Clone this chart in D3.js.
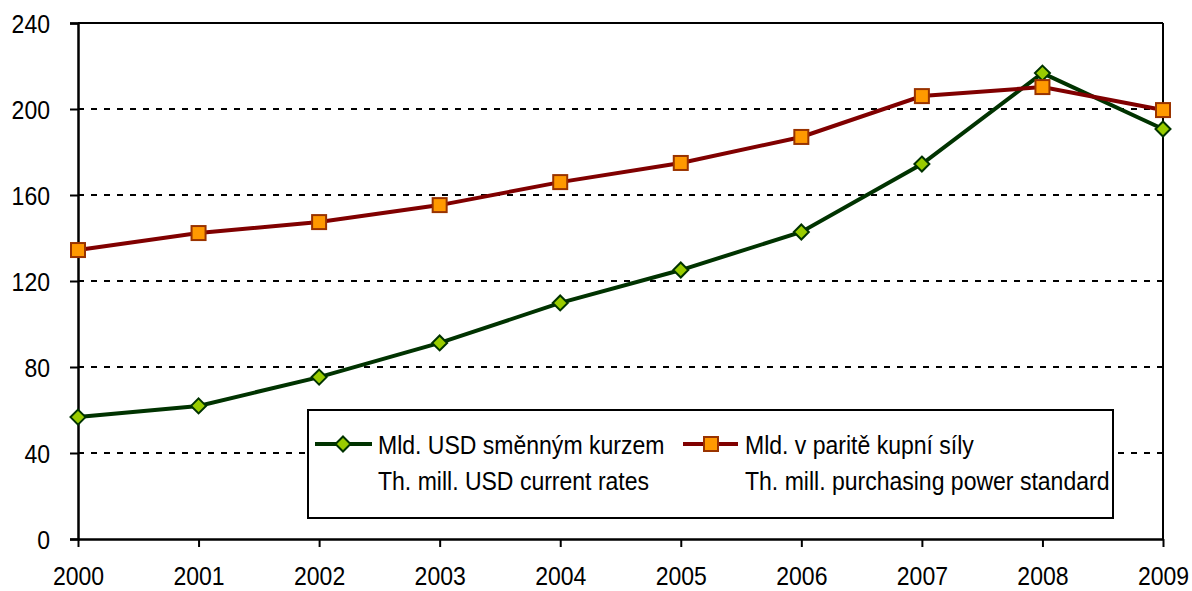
<!DOCTYPE html>
<html>
<head>
<meta charset="utf-8">
<script src="https://cdn.jsdelivr.net/npm/d3@7"></script>
<style>
    body { margin: 0; background: #fff; }
    text { font-family: "Liberation Sans", Arial, sans-serif; }
</style>
</head>
<body>
<div id="chart"></div>
<script>
const YEARS = [2000, 2001, 2002, 2003, 2004, 2005, 2006, 2007, 2008, 2009];
const USD_RATES = [56.7, 61.9, 75.3, 91.2, 109.8, 125.1, 142.8, 174.4, 216.7, 190.7];
const PPS = [134.4, 142.3, 147.4, 155.3, 166.0, 174.9, 187.0, 206.0, 210.2, 199.5];
const Y_TICKS = [0, 40, 80, 120, 160, 200, 240];
const LEGEND_LABELS = [
    ["Mld. USD směnným kurzem", "Th. mill. USD current rates"],
    ["Mld. v paritě kupní síly", "Th. mill. purchasing power standard"]
];

const WIDTH = 1192, HEIGHT = 591;
const LEFT = 78, RIGHT = 1163, TOP = 23, BOTTOM = 539;
const FONT_SIZE = 26;
const SQUEEZE = 0.885; // the text in the original is horizontally condensed

const svg = d3.select("#chart").append("svg")
    .attr("width", WIDTH)
    .attr("height", HEIGHT);

const x = d3.scalePoint().domain(YEARS).range([LEFT, RIGHT]);
const y = d3.scaleLinear().domain([0, 240]).range([BOTTOM, TOP]);

// dotted gridlines
svg.append("g")
    .selectAll("line")
    .data(Y_TICKS.filter(d => d > 0 && d < 240))
    .join("line")
    .attr("x1", LEFT).attr("x2", RIGHT)
    .attr("y1", d => y(d)).attr("y2", d => y(d))
    .attr("stroke", "#000")
    .attr("stroke-width", 2)
    .attr("stroke-dasharray", "6,7");

// frame: top and right
svg.append("line").attr("x1", LEFT).attr("x2", RIGHT).attr("y1", TOP).attr("y2", TOP)
    .attr("stroke", "#000").attr("stroke-width", 2);
svg.append("line").attr("x1", RIGHT).attr("x2", RIGHT).attr("y1", TOP).attr("y2", BOTTOM)
    .attr("stroke", "#000").attr("stroke-width", 2);

// y axis
const yAxis = svg.append("g")
    .attr("transform", `translate(${LEFT},0)`)
    .call(d3.axisLeft(y).tickValues(Y_TICKS).tickSize(8));
yAxis.select(".domain").attr("stroke-width", 2.5);
yAxis.selectAll(".tick line").attr("stroke-width", 2);
yAxis.selectAll(".tick text")
    .attr("font-size", FONT_SIZE).attr("fill", "#000")
    .attr("x", -28 / SQUEEZE)
    .attr("dy", "0.38em")
    .attr("transform", `scale(${SQUEEZE},1)`)
    .style("font-family", '"Liberation Sans", Arial, sans-serif');

// x axis
const xAxis = svg.append("g")
    .attr("transform", `translate(0,${BOTTOM})`)
    .call(d3.axisBottom(x).tickSize(8).tickPadding(20).tickSizeOuter(0));
xAxis.select(".domain").attr("stroke-width", 2.5);
xAxis.selectAll(".tick line").attr("stroke-width", 2);
xAxis.selectAll(".tick text")
    .attr("font-size", FONT_SIZE).attr("fill", "#000")
    .attr("transform", `scale(${SQUEEZE},1)`)
    .style("font-family", '"Liberation Sans", Arial, sans-serif');

const line = d3.line().x((d, i) => x(YEARS[i])).y(d => y(d));

// green series
svg.append("path").datum(USD_RATES)
    .attr("d", line)
    .attr("fill", "none")
    .attr("stroke", "#003300")
    .attr("stroke-width", 4);

// red series
svg.append("path").datum(PPS)
    .attr("d", line)
    .attr("fill", "none")
    .attr("stroke", "#800000")
    .attr("stroke-width", 4);

const diamond = (cx, cy, r) => `M${cx},${cy - r}L${cx + r},${cy}L${cx},${cy + r}L${cx - r},${cy}Z`;

svg.append("g").selectAll("path")
    .data(USD_RATES)
    .join("path")
    .attr("d", (d, i) => diamond(x(YEARS[i]), y(d), 7.5))
    .attr("fill", "#99cc00")
    .attr("stroke", "#003300")
    .attr("stroke-width", 2);

svg.append("g").selectAll("rect")
    .data(PPS)
    .join("rect")
    .attr("x", (d, i) => x(YEARS[i]) - 7)
    .attr("y", d => y(d) - 7)
    .attr("width", 14).attr("height", 14)
    .attr("fill", "#ff9900")
    .attr("stroke", "#993300")
    .attr("stroke-width", 2);

// legend
const legend = svg.append("g");
legend.append("rect")
    .attr("x", 308).attr("y", 410)
    .attr("width", 805).attr("height", 108)
    .attr("fill", "#fff")
    .attr("stroke", "#000")
    .attr("stroke-width", 2);

legend.append("line").attr("x1", 315).attr("x2", 372).attr("y1", 444).attr("y2", 444)
    .attr("stroke", "#003300").attr("stroke-width", 4);
legend.append("path").attr("d", diamond(343, 444, 7.5))
    .attr("fill", "#99cc00").attr("stroke", "#003300").attr("stroke-width", 2);

legend.append("line").attr("x1", 683).attr("x2", 738).attr("y1", 444).attr("y2", 444)
    .attr("stroke", "#800000").attr("stroke-width", 4);
legend.append("rect").attr("x", 704).attr("y", 437).attr("width", 14).attr("height", 14)
    .attr("fill", "#ff9900").attr("stroke", "#993300").attr("stroke-width", 2);

[378, 745].forEach((lx, i) => {
    LEGEND_LABELS[i].forEach((txt, j) => {
        legend.append("text")
            .attr("transform", `translate(${lx},${454 + j * 36}) scale(${SQUEEZE},1)`)
            .attr("font-size", FONT_SIZE)
            .attr("fill", "#000")
            .text(txt);
    });
});
</script>
</body>
</html>
